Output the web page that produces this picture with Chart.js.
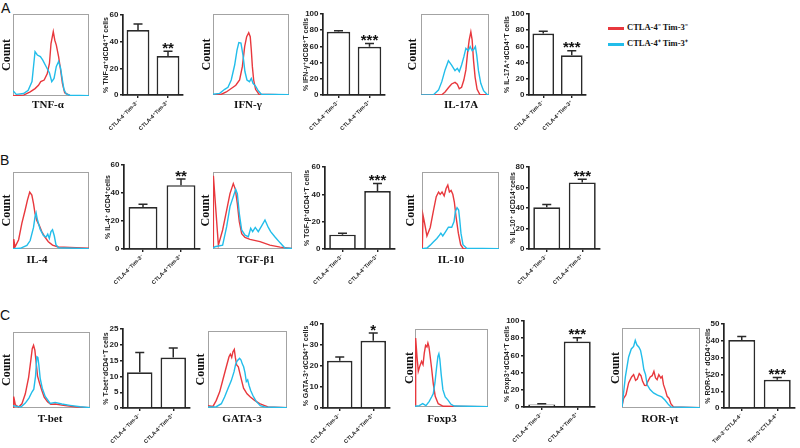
<!DOCTYPE html>
<html lang="en">
<head>
<meta charset="UTF-8" />
<title>CTLA-4 / Tim-3 subsets: histograms and frequencies</title>
<script src="https://cdn.jsdelivr.net/npm/chart.js"></script>
<style>
  body { margin: 0; background: #fff; }
  #fig { position: relative; width: 800px; height: 448px; overflow: hidden; background: #fff; }
  #fig canvas { position: absolute; }
  .letter { position: absolute; font: 14px/14px 'Liberation Sans', Arial, sans-serif; color: #111; }
  .legend { position: absolute; left: 608px; font: bold 8.5px/10px 'Liberation Serif', 'Times New Roman', serif; color: #111; white-space: nowrap; }
  .legend span { display: inline-block; width: 16px; height: 3px; margin-right: 3px; vertical-align: middle; }
</style>
</head>
<body>
<div id="fig">
  <div class="letter" style="left:1px;top:1px">A</div>
  <div class="letter" style="left:0px;top:153px">B</div>
  <div class="letter" style="left:0px;top:308px">C</div>
  <div class="legend" style="top:22px"><span style="background:#e8383d"></span>CTLA-4⁻ Tim-3⁻</div>
  <div class="legend" style="top:38px"><span style="background:#22bdea"></span>CTLA-4⁺ Tim-3⁺</div>
</div>

<script>
// ---- bar data: mean % and SEM, [negative group, positive group] ----
const groups = ['CTLA-4⁻Tim-3⁻', 'CTLA-4⁺Tim-3⁺']
const groupsTim = ['Tim-3⁻CTLA-4⁻', 'Tim-3⁺CTLA-4⁺']

const tnfMean = [48.7, 29.2], tnfSem = [4.5, 3.7]
const ifnMean = [78, 59.5], ifnSem = [1.2, 4]
const il17Mean = [76, 49], il17Sem = [2.6, 5.6]
const il4Mean = [30, 45.6], il4Sem = [2, 4.4]
const tgfMean = [10.5, 42.4], tgfSem = [1.1, 5.5]
const il10Mean = [40.7, 65], il10Sem = [2.8, 3]
const tbetMean = [11.3, 16], tbetSem = [6.3, 3]
const gataMean = [22.5, 32], gataSem = [1.8, 3.7]
const foxMean = [3, 76.2], foxSem = [0.8, 4.2]
const rorMean = [40.5, 16.8], rorSem = [2, 1.3]

// ---- histogram traces: [fluorescence (0-100 of axis), count (0-100 of axis)] ----
const tnfRed = [[0,0.5],[14,1],[22.6,5],[29,9],[33.5,13],[36.5,17.5],[41,19.5],[45,27],[48,40],[50,64],[53,78.5],[55,68],[57,62],[60,48],[62.6,32],[65,15.5],[68,4],[75,0.5],[100,0.5]]
const tnfBlue = [[0,6.5],[4.3,2],[14,3],[20,7],[25,17.5],[27,36],[29,54],[32,50],[36,48],[39,44],[43.5,36],[48,28],[51,17.5],[54,21.5],[57,36],[60,42],[62.6,34],[65,19.5],[67,8],[70,2.5],[75,1],[100,0.5]]
const ifnRed = [[0,0],[11,1],[17.5,3.7],[24,8],[30,12],[35,18.5],[38.6,35],[41.7,60],[44.3,72],[47,77],[49,72],[50.4,55.5],[51.8,35],[53.5,18.5],[56,7],[60.5,1],[100,0]]
const ifnBlue = [[0,1],[8.8,2],[15.4,7],[19.7,9.5],[24,18.5],[28.5,37],[31.6,55.5],[34,64.6],[36.8,64],[39.5,49],[42,29],[44.7,18.5],[48,16.5],[50.4,20.5],[52.6,14.4],[56,11],[59,6],[63.6,1],[100,0.4]]
const il17Red = [[0,0],[30.6,0.4],[35.4,3.7],[40.3,9],[45,13.6],[50,15.6],[53.4,13.2],[56.3,7.8],[59.7,9.5],[63,18.5],[66,31],[68.4,51.4],[70.9,68],[73.3,78],[75.2,68],[77.2,43],[79.6,21.8],[82.5,7],[86.4,0.8],[100,0]]
const il17Blue = [[0,0],[18.4,0.4],[25.7,6],[30.6,16.5],[35.4,31],[40.3,42.4],[45,37],[50,30],[53.4,33],[56.3,29],[59.7,37],[63,47],[66,57.6],[69.4,54.7],[72.3,59.7],[75.2,54.7],[77.7,56.4],[80,59.7],[82,49],[84.5,30],[87.9,14.4],[92,5.3],[97,0.8],[100,0.4]]
const il4Red = [[0,0],[1,13],[2.6,2.6],[7.4,12],[11.7,33.5],[16,50.6],[19,63.5],[22,74],[24.8,70],[27,59],[29,46],[31.3,37],[34.8,30],[37.8,22.7],[42,15.5],[46.5,9.4],[52,5],[59.6,2.6],[74.8,2],[100,1]]
const il4Blue = [[0,0.4],[9.6,0.9],[18.3,4.7],[22.6,11],[27,28],[29,42],[30.4,47],[32,38.6],[35.7,25.8],[40,17.6],[43.5,15.5],[45.7,19.3],[47.8,13.7],[50,22.7],[52,25],[54.3,17.2],[56.5,5.6],[60,1.7],[100,0.4]]
const tgfRed = [[0,2],[0.5,95],[6.8,5],[12.2,24.7],[17.3,50.6],[21.5,72],[25.7,85],[28.3,77.5],[30.8,59],[33.3,35.5],[36.3,20],[40.5,15],[46.8,12.5],[59.5,9.5],[72,5],[85,2.5],[100,0.6]]
const tgfBlue = [[0,1],[2.5,3],[12.2,5],[17.3,29],[21.5,55],[25.7,68],[28.7,77.5],[30.8,72],[33.3,46],[36.3,24.7],[40.5,18],[44.7,16],[47.7,27],[50.2,22.5],[53.5,28],[57.3,22.5],[61.6,30],[65.8,37.7],[70,28],[73,22.5],[78.5,15.6],[85,8],[91,1.3],[100,0.6]]
const il10Red = [[0.4,0],[1.3,44],[3,35.6],[6.4,17],[10.7,28],[15,50.6],[18.5,68],[21.5,74],[23.6,71],[26,74],[28.8,69],[31.3,78.5],[33.5,83],[35.6,74],[37.8,76],[40,71],[42,61],[44.2,42],[47.2,20.6],[50.2,5.6],[53.6,0.4],[100,0]]
const il10Blue = [[0,0.4],[6.4,1.3],[10.7,5],[15,9.4],[19.3,13.7],[22.7,18],[24.5,20.6],[27,17],[30.5,22.3],[34.3,28.3],[38.6,28.3],[41.6,35.6],[43.3,48.5],[45.5,53.6],[47.6,50.6],[49,37.8],[50.6,20.6],[53.2,5.6],[58,0.9],[100,0.4]]
const tbetRed = [[0,0],[0.9,15],[3,4.3],[7.3,1.3],[11.6,5.6],[16,18.7],[20.3,40.4],[23.3,64],[25,78],[26.7,82.6],[28.4,76],[30.2,58.7],[31.9,42],[34.5,32.6],[37.5,23],[40.5,14.3],[44.8,8.3],[49,4.8],[54.7,5.2],[65.5,3.5],[82.8,1.3],[100,0.4]]
const tbetBlue = [[0,3],[5.2,2.2],[10.3,1.3],[16,6.5],[20.7,13],[24.6,21],[27,24.8],[29.3,42],[31,67.4],[32.3,66.5],[33.6,56.5],[35.3,39],[38,26],[41.8,15.2],[48.3,6],[54.7,7.4],[63.4,5.2],[74,3.5],[87,1.7],[100,0.4]]
const gataRed = [[0,3],[6.3,2.1],[10.5,9.9],[14.8,21],[19,37.3],[23.2,53.6],[26.6,66.5],[28.3,70],[30,65.7],[31.6,73],[33.3,76],[34.6,65.7],[36.3,55.8],[38.4,53.6],[40.5,44.2],[42.6,35.6],[45,25.8],[49.4,18.5],[53.6,14.2],[59,9.9],[65.4,5.6],[71.7,3],[76,1.3],[100,0.4]]
const gataBlue = [[0,1.3],[10.5,1.7],[16.9,5.6],[21,14.2],[25.3,25.3],[29.5,35.6],[33,47.2],[35,57],[37.1,61.4],[40,64.4],[41.8,62.2],[43.5,57],[45.1,53.6],[46.8,46],[48.5,34.3],[50.2,36.5],[51.9,29.6],[54,22.7],[57,15.9],[61,8.6],[66.2,3],[71.7,1.3],[100,0.4]]
const foxRed = [[0,0],[0.9,88.5],[2.7,65],[4.5,45.7],[6.8,53],[9,58.5],[11,54.3],[12.7,69],[14.5,79],[16.4,76.9],[17.7,82],[19,77.8],[20.5,67],[22.7,50],[25,30],[27.7,13.7],[31.8,4.3],[38.6,0.9],[100,0.4]]
const foxBlue = [[0,0.9],[5.9,1.7],[10.5,4.3],[15,1.7],[19.5,7.3],[22.7,12.8],[25,17],[27.3,30.8],[29.5,50],[31.4,65],[32.7,68.4],[34,61.5],[35.9,41.5],[38.2,22.2],[41.4,12.8],[45.5,8.5],[49,3.8],[53.6,1.3],[100,0.4]]
const rorRed = [[0,2],[2.1,12],[5.1,16.7],[8.5,31.3],[12.3,38.8],[14.9,41.7],[17.4,34.6],[19.6,36.3],[22.1,43],[24.3,40.4],[26.4,33.3],[28.9,28.3],[31,28],[33.2,33.3],[36.2,38.8],[38.7,40.4],[40.9,45.8],[43,37.5],[45,35.4],[47.2,41.7],[49.8,37.5],[51.5,39.6],[53.2,29.2],[55.7,22],[57.9,14.6],[60.4,12],[62.6,5.4],[66,1.3],[100,0.4]]
const rorBlue = [[0,1.3],[1.3,12.5],[4.3,38.8],[8.5,63.8],[11.9,73.8],[14.9,77],[17,84.6],[19,79],[21.7,76],[23.8,72],[26,61],[28,48],[30.2,41.7],[32.3,29],[36,23],[40.4,18.8],[45.5,16],[51,13.8],[55.3,9.6],[59.6,4.2],[63,1.3],[100,0.4]]

const RED = '#e8383d'
const BLUE = '#22bdea'
const INK = '#222'
const SANS = "'Liberation Sans', 'DejaVu Sans', Arial, sans-serif"
const SERIF = "'Liberation Serif', 'DejaVu Serif', 'Times New Roman', serif"

Chart.defaults.font.family = SANS
Chart.defaults.color = INK
Chart.defaults.animation = false

const fig = document.getElementById('fig')

function addCanvas(left, top, width, height) {
  const c = document.createElement('canvas')
  c.width = Math.round(width)
  c.height = Math.round(height)
  c.style.left = left + 'px'
  c.style.top = top + 'px'
  fig.appendChild(c)
  return c
}

// grey frame and marker name under each histogram
const histFrame = {
  id: 'histFrame',
  beforeDatasetsDraw(chart, args, opts) {
    const { ctx, chartArea: a } = chart
    ctx.save()
    ctx.strokeStyle = '#a3a3a3'
    ctx.lineWidth = 1
    ctx.strokeRect(a.left + 0.5, a.top + 0.5, a.width - 1, a.height - 1)
    ctx.fillStyle = '#111'
    ctx.font = 'bold 11px ' + SERIF
    ctx.textAlign = 'center'
    ctx.textBaseline = 'middle'
    ctx.fillText(opts.label, opts.lx, opts.ly)
    ctx.restore()
  },
}

// SEM whiskers and significance stars on the bar panels
const errorBars = {
  id: 'errorBars',
  afterDatasetsDraw(chart, args, opts) {
    const { ctx } = chart
    const y = chart.scales.y
    const values = chart.data.datasets[0].data
    ctx.save()
    ctx.strokeStyle = '#2a2a2a'
    ctx.lineWidth = 1.5
    ctx.fillStyle = '#111'
    ctx.font = 'bold 15px ' + SANS
    ctx.textAlign = 'center'
    ctx.textBaseline = 'alphabetic'
    chart.getDatasetMeta(0).data.forEach((bar, i) => {
      const top = y.getPixelForValue(values[i] + opts.sem[i])
      ctx.beginPath()
      ctx.moveTo(bar.x, bar.y)
      ctx.lineTo(bar.x, top)
      ctx.moveTo(bar.x - 4.5, top)
      ctx.lineTo(bar.x + 4.5, top)
      ctx.stroke()
      if (i === 1 && opts.star) ctx.fillText(opts.star, bar.x, top + 1.5)
    })
    ctx.restore()
  },
}

function histogram(p) {
  const [l, t, r, b] = p.box
  const left = p.countX - 8
  const top = t - 2
  const width = r + 2 - left
  const height = p.label[1] + 8 - top
  const yWidth = l - left
  const c = addCanvas(left, top, width, height)
  new Chart(c, {
    type: 'line',
    data: {
      datasets: [
        { data: p.blue.map(([x, y]) => ({ x, y })), borderColor: BLUE, borderWidth: 1.4, pointRadius: 0, tension: 0 },
        { data: p.red.map(([x, y]) => ({ x, y })), borderColor: RED, borderWidth: 1.4, pointRadius: 0, tension: 0 },
      ],
    },
    options: {
      responsive: false,
      devicePixelRatio: 1,
      layout: { padding: { top: 2, right: 2, left: 0, bottom: height - (b - top) } },
      plugins: {
        legend: { display: false },
        tooltip: { enabled: false },
        histFrame: { label: p.name, lx: p.label[0] - left, ly: p.label[1] - top },
      },
      scales: {
        x: { type: 'linear', min: 0, max: 100, display: false },
        y: {
          min: 0,
          max: 100,
          ticks: { display: false },
          grid: { display: false },
          border: { display: false },
          title: {
            display: true,
            text: 'Count',
            color: '#111',
            font: { family: SERIF, size: 12, weight: 'bold', lineHeight: 1 },
            padding: { top: 8 - 6, bottom: 0 },
          },
          afterFit(s) { s.width = yWidth; s.paddingTop = 0; s.paddingBottom = 0 },
        },
      },
    },
    plugins: [histFrame],
  })
}

function barPanel(p) {
  const left = p.titleX - 6
  const top = p.topY - 10
  const width = p.rightEnd + 3 - left
  const height = (p.zeroY - p.topY) + 10 + 42
  const yWidth = p.axisX - left
  const c = addCanvas(left, top, width, height)
  new Chart(c, {
    type: 'bar',
    data: {
      labels: p.labels,
      datasets: [{
        data: p.mean,
        backgroundColor: '#fff',
        borderColor: '#2a2a2a',
        borderWidth: 1.7,
        barPercentage: 0.76,
        categoryPercentage: 1,
      }],
    },
    options: {
      responsive: false,
      devicePixelRatio: 1,
      layout: { padding: { top: 10, right: 3, left: 0, bottom: 0 } },
      plugins: {
        legend: { display: false },
        tooltip: { enabled: false },
        errorBars: { sem: p.sem, star: p.star },
      },
      scales: {
        y: {
          min: 0,
          max: p.max,
          ticks: { stepSize: p.step, font: { size: 8, weight: 'bold' }, color: INK, padding: 1.5 },
          grid: { drawOnChartArea: false, tickLength: 3, color: INK, lineWidth: 1.4 },
          border: { color: INK, width: 1.7 },
          title: {
            display: true,
            text: p.title,
            color: INK,
            font: { size: 7, weight: 'bold', lineHeight: 1 },
            padding: { top: 6 - 3.5, bottom: 0 },
          },
          afterFit(s) { s.width = yWidth; s.paddingTop = 0; s.paddingBottom = 0 },
        },
        x: {
          ticks: { autoSkip: false, minRotation: 45, maxRotation: 45, font: { size: 5.5, weight: 'bold' }, color: INK, padding: 1 },
          grid: { drawOnChartArea: false, offset: false, tickLength: 3, color: INK, lineWidth: 1.4 },
          border: { color: INK, width: 1.7 },
          afterFit(s) { s.height = 42; s.paddingLeft = 0; s.paddingRight = 0 },
        },
      },
    },
    plugins: [errorBars],
  })
}

// ---- histogram panels ----
histogram({ name: 'TNF-α', box: [13, 14, 89, 96], countX: 7, label: [48, 105], red: tnfRed, blue: tnfBlue })
histogram({ name: 'IFN-γ', box: [213, 14, 289, 95], countX: 207, label: [248, 105], red: ifnRed, blue: ifnBlue })
histogram({ name: 'IL-17A', box: [421, 14, 489, 95], countX: 413, label: [461, 105], red: il17Red, blue: il17Blue })
histogram({ name: 'IL-4', box: [13, 172, 89, 249], countX: 7, label: [37, 260], red: il4Red, blue: il4Blue })
histogram({ name: 'TGF-β1', box: [213, 172, 292, 249], countX: 206, label: [256, 260], red: tgfRed, blue: tgfBlue })
histogram({ name: 'IL-10', box: [422, 172, 499, 249], countX: 411, label: [451, 260], red: il10Red, blue: il10Blue })
histogram({ name: 'T-bet', box: [13, 332, 90, 408], countX: 7, label: [50, 419], red: tbetRed, blue: tbetBlue })
histogram({ name: 'GATA-3', box: [208, 331, 287, 408], countX: 201, label: [242, 419], red: gataRed, blue: gataBlue })
histogram({ name: 'Foxp3', box: [415, 329, 488, 407], countX: 410, label: [442, 419], red: foxRed, blue: foxBlue })
histogram({ name: 'ROR-γt', box: [622, 328, 700, 408], countX: 616, label: [660, 419], red: rorRed, blue: rorBlue })

// ---- bar panels ----
barPanel({ title: '% TNF-α⁺dCD4⁺T cells', labels: groups, mean: tnfMean, sem: tnfSem, star: '**', max: 60, step: 20, axisX: 123, topY: 15, zeroY: 95, rightEnd: 183, titleX: 106 })
barPanel({ title: '% IFN-γ⁺dCD8⁺T cells', labels: groups, mean: ifnMean, sem: ifnSem, star: '***', max: 100, step: 20, axisX: 323, topY: 14, zeroY: 95, rightEnd: 385, titleX: 306 })
barPanel({ title: '% IL-17A⁺dCD4⁺T cells', labels: groups, mean: il17Mean, sem: il17Sem, star: '***', max: 100, step: 20, axisX: 529, topY: 14, zeroY: 95, rightEnd: 586, titleX: 507 })
barPanel({ title: '% IL-4⁺ dCD4⁺cells', labels: groups, mean: il4Mean, sem: il4Sem, star: '**', max: 60, step: 20, axisX: 124, topY: 165, zeroY: 249, rightEnd: 200, titleX: 108 })
barPanel({ title: '% TGF-β⁺dCD4⁺T cells', labels: groups, mean: tgfMean, sem: tgfSem, star: '***', max: 60, step: 20, axisX: 325, topY: 167, zeroY: 249, rightEnd: 395, titleX: 307 })
barPanel({ title: '% IL-10⁺ dCD14⁺cells', labels: groups, mean: il10Mean, sem: il10Sem, star: '***', max: 80, step: 20, axisX: 529, topY: 167, zeroY: 249, rightEnd: 600, titleX: 513 })
barPanel({ title: '% T-bet⁺dCD4⁺T cells', labels: groups, mean: tbetMean, sem: tbetSem, star: '', max: 25, step: 5, axisX: 123, topY: 329, zeroY: 408, rightEnd: 190, titleX: 106 })
barPanel({ title: '% GATA-3⁺dCD4⁺T cells', labels: groups, mean: gataMean, sem: gataSem, star: '*', max: 40, step: 10, axisX: 323, topY: 324, zeroY: 408, rightEnd: 390, titleX: 306 })
barPanel({ title: '% Foxp3⁺dCD4⁺T cells', labels: groups, mean: foxMean, sem: foxSem, star: '***', max: 100, step: 20, axisX: 524, topY: 321, zeroY: 407, rightEnd: 595, titleX: 507 })
barPanel({ title: '% ROR-γt⁺ dCD4⁺cells', labels: groupsTim, mean: rorMean, sem: rorSem, star: '***', max: 50, step: 10, axisX: 724, topY: 324, zeroY: 408, rightEnd: 795, titleX: 708 })
</script>
</body>
</html>
